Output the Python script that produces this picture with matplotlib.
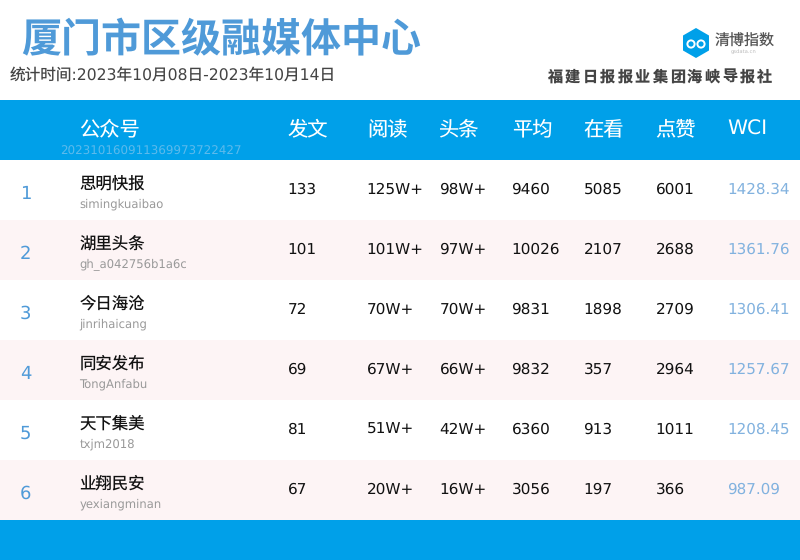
import matplotlib
matplotlib.use('Agg')
import matplotlib.pyplot as plt
from matplotlib.patches import Rectangle, RegularPolygon, Circle

FONT = ['DejaVu Sans', 'Noto Sans CJK SC']
plt.rcParams['font.family'] = FONT
plt.rcParams['text.hinting'] = 'none'

title = '厦门市区级融媒体中心'
period = '统计时间:2023年10月08日-2023年10月14日'
publisher = '福建日报报业集团海峡导报社'
watermark = '20231016091136997372242 7'.replace(' ', '')
logo_text = '清博指数'
logo_sub = 'gsdata.cn'

headers = ['公众号', '发文', '阅读', '头条', '平均', '在看', '点赞', 'WCI']
ranks = ['1', '2', '3', '4', '5', '6']
names = ['思明快报', '湖里头条', '今日海沧', '同安发布', '天下集美', '业翔民安']
ids = ['simingkuaibao', 'gh_a042756b1a6c', 'jinrihaicang', 'TongAnfabu', 'txjm2018', 'yexiangminan']
posts = ['133', '101', '72', '69', '81', '67']
reads = ['125W+', '101W+', '70W+', '67W+', '51W+', '20W+']
heads = ['98W+', '97W+', '70W+', '66W+', '42W+', '16W+']
avgs = ['9460', '10026', '9831', '9832', '6360', '3056']
looks = ['5085', '2107', '1898', '357', '913', '197']
likes = ['6001', '2688', '2709', '2964', '1011', '366']
wci = ['1428.34', '1361.76', '1306.41', '1257.67', '1208.45', '987.09']

BLUE = '#00a0e9'
PINK = '#fdf4f5'
STEEL = '#4f9ad8'
WCI_C = '#82b2df'

fig = plt.figure(figsize=(8, 5.6), dpi=100)
ax = fig.add_axes([0, 0, 1, 1])
ax.set_xlim(0, 800)
ax.set_ylim(560, 0)
ax.axis('off')

ax.add_patch(Rectangle((0, 100), 800, 60, color=BLUE, lw=0))
ax.add_patch(Rectangle((0, 520), 800, 40, color=BLUE, lw=0))
for i in range(len(ranks)):
    if i % 2 == 1:
        ax.add_patch(Rectangle((0, 160 + 60 * i), 800, 60, color=PINK, lw=0))

ax.text(21, 52, title, fontsize=28.8, fontweight='bold', color=STEEL, va='baseline', ha='left')
ax.text(9.5, 80, period, fontsize=11.25, color='#444444', va='baseline', ha='left')
for k, ch in enumerate(publisher):
    ax.text(547.5 + k * 17.45, 82, ch, fontsize=10.9, fontweight='bold', color='#444444',
            va='baseline', ha='left')

# logo
ax.add_patch(RegularPolygon((696, 43), 6, radius=15, orientation=0, color=BLUE, lw=0))
ax.add_patch(Circle((691, 44), 3.6, fill=False, ec='white', lw=1.4))
ax.add_patch(Circle((701, 44), 3.6, fill=False, ec='white', lw=1.4))
ax.text(744.5, 46, logo_text, fontsize=10.8, color='#555555', va='baseline', ha='center')
ax.text(744, 53, logo_sub, fontsize=3.8, color='#bbbbbb', va='baseline', ha='center')

hx = [80, 288, 368, 439, 513, 584, 656, 728]
for x, h in zip(hx, headers):
    ax.text(x - 0.5, 135, h, fontsize=14.6, color='white', va='baseline', ha='left')
ax.text(60, 155, watermark, fontsize=8.6, color='#5cbaec', va='baseline', ha='left')

cx = [288, 367, 440, 512, 584, 656]
for i in range(len(ranks)):
    y = 160 + 60 * i
    ax.text(20, y + 39, ranks[i], fontsize=13, color=STEEL, va='baseline', ha='left')
    ax.text(79.5, y + 29, names[i], fontsize=11.8, color='#111111', va='baseline', ha='left')
    ax.text(79.5, y + 47, ids[i], fontsize=8.4, color='#999999', va='baseline', ha='left')
    cols = [posts[i], reads[i], heads[i], avgs[i], looks[i], likes[i]]
    for x, v in zip(cx, cols):
        ax.text(x - 0.5, y + 34, v, fontsize=11.0, color='#111111', va='baseline', ha='left')
    ax.text(727.5, y + 34, wci[i], fontsize=10.9, color=WCI_C, va='baseline', ha='left')

fig.savefig('out.png', dpi=100)
